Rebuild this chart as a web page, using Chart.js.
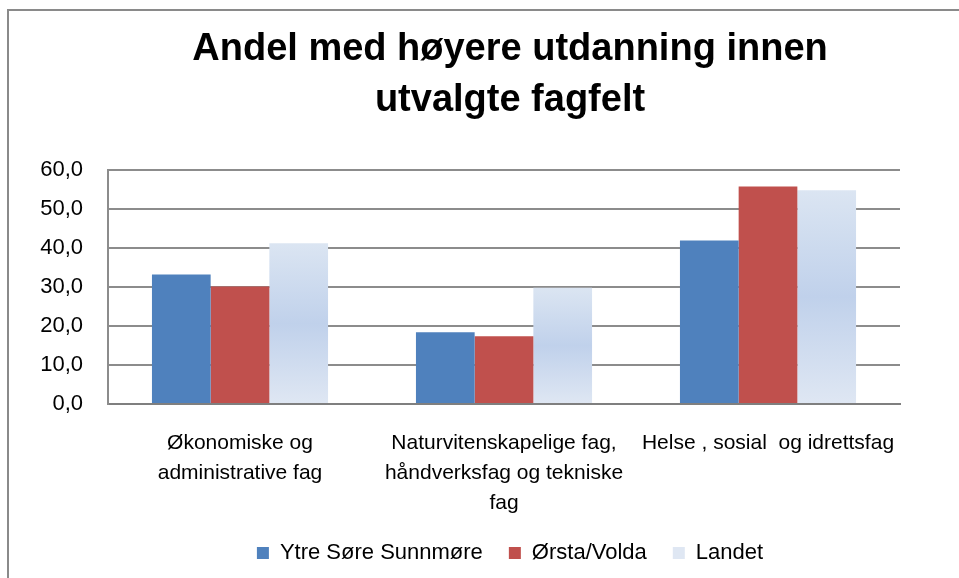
<!DOCTYPE html>
<html>
<head>
<meta charset="utf-8">
<script src="https://cdn.jsdelivr.net/npm/chart.js@4/dist/chart.umd.min.js"></script>
<style>
  html, body { margin: 0; padding: 0; background: #fff; }
  #wrap { position: relative; width: 959px; height: 578px; overflow: hidden; }
  #frame { position: absolute; left: 7px; top: 9px; width: 1000px; height: 1000px;
           border-left: 2px solid #8a8a8a; border-top: 2px solid #8a8a8a; pointer-events: none; }
  canvas { position: absolute; left: 0; top: 0; }
</style>
</head>
<body>
<div id="wrap">
  <canvas id="c" width="959" height="578"></canvas>
  <div id="frame"></div>
</div>
<script>
const titleLines = ['Andel med høyere utdanning innen', 'utvalgte fagfelt'];
const categories = [
  ['Økonomiske og', 'administrative fag'],
  ['Naturvitenskapelige fag,', 'håndverksfag og tekniske', 'fag'],
  ['Helse , sosial  og idrettsfag']
];
const seriesNames = ['Ytre Søre Sunnmøre', 'Ørsta/Volda', 'Landet'];
const ytreSoreSunnmore = [33.2, 18.4, 41.9];
const orstaVolda = [30.1, 17.4, 55.8];
const landet = [41.2, 29.8, 54.8];
const yTickValues = [0, 10, 20, 30, 40, 50, 60];

const FONT = "'Liberation Sans', Arial, sans-serif";

function landetFill(ctx) {
  if (ctx.type !== 'data' || !ctx.parsed) return '#cfdbf0';
  const chart = ctx.chart;
  const ys = chart.scales && chart.scales.y;
  if (!ys) return '#cfdbf0';
  const top = ys.getPixelForValue(ctx.parsed.y);
  const bottom = ys.getPixelForValue(0);
  if (!isFinite(top) || !isFinite(bottom) || top === bottom) return '#cfdbf0';
  const g = chart.ctx.createLinearGradient(0, top, 0, bottom);
  g.addColorStop(0, '#dbe5f2');
  g.addColorStop(0.5, '#c0d1eb');
  g.addColorStop(1, '#dfe7f3');
  return g;
}

// let tick labels draw outside their narrow axis boxes (no clipping)
const unclipLabels = {
  id: 'unclipLabels',
  afterLayout(chart) {
    if (chart.scales.y) chart.scales.y.left = 0;
    if (chart.scales.x) chart.scales.x.bottom = chart.height;
  }
};

new Chart(document.getElementById('c'), {
  type: 'bar',
  data: {
    labels: categories,
    datasets: [
      { label: seriesNames[0], data: ytreSoreSunnmore, backgroundColor: '#4f81bd' },
      { label: seriesNames[1], data: orstaVolda, backgroundColor: '#c0504d' },
      { label: seriesNames[2], data: landet, backgroundColor: landetFill }
    ]
  },
  plugins: [unclipLabels],
  options: {
    responsive: false,
    animation: false,
    devicePixelRatio: 1,
    layout: { padding: { left: 61, right: 0, top: 0, bottom: 4 } },
    datasets: { bar: { categoryPercentage: 0.667, barPercentage: 1.0, borderWidth: 0 } },
    plugins: {
      title: {
        display: true,
        text: titleLines,
        color: '#000',
        font: { family: FONT, size: 38, weight: 'bold', lineHeight: 51 / 38 },
        padding: { top: 24, bottom: 44 }
      },
      legend: {
        position: 'bottom',
        labels: {
          color: '#000',
          font: { family: FONT, size: 22 },
          boxWidth: 12,
          boxHeight: 12,
          padding: 26
        }
      },
      tooltip: { enabled: false }
    },
    scales: {
      x: {
        grid: { display: false, drawTicks: false },
        border: { display: true, color: '#7f7f7f', width: 2 },
        ticks: {
          color: '#000',
          font: { family: FONT, size: 21, lineHeight: 30 / 21 },
          padding: 24,
          maxRotation: 0,
          minRotation: 0,
          autoSkip: false
        },
        afterFit: (s) => { s.height = 112; }
      },
      y: {
        min: 0,
        max: 60,
        afterBuildTicks: (s) => { s.ticks = yTickValues.map(v => ({ value: v })); },
        grid: { color: '#8c8c8c', lineWidth: 2, drawTicks: false },
        border: { display: true, color: '#8c8c8c', width: 2 },
        ticks: {
          color: '#000',
          font: { family: FONT, size: 22 },
          padding: 25,
          callback: (v) => Number(v).toFixed(1).replace('.', ',')
        },
        afterFit: (s) => { s.width = 47; }
      },
      yRight: {
        axis: 'y',
        position: 'right',
        min: 0,
        max: 60,
        grid: { display: false, drawTicks: false },
        border: { display: false },
        ticks: { display: false },
        afterFit: (s) => { s.width = 59; }
      }
    }
  }
});
</script>
</body>
</html>
